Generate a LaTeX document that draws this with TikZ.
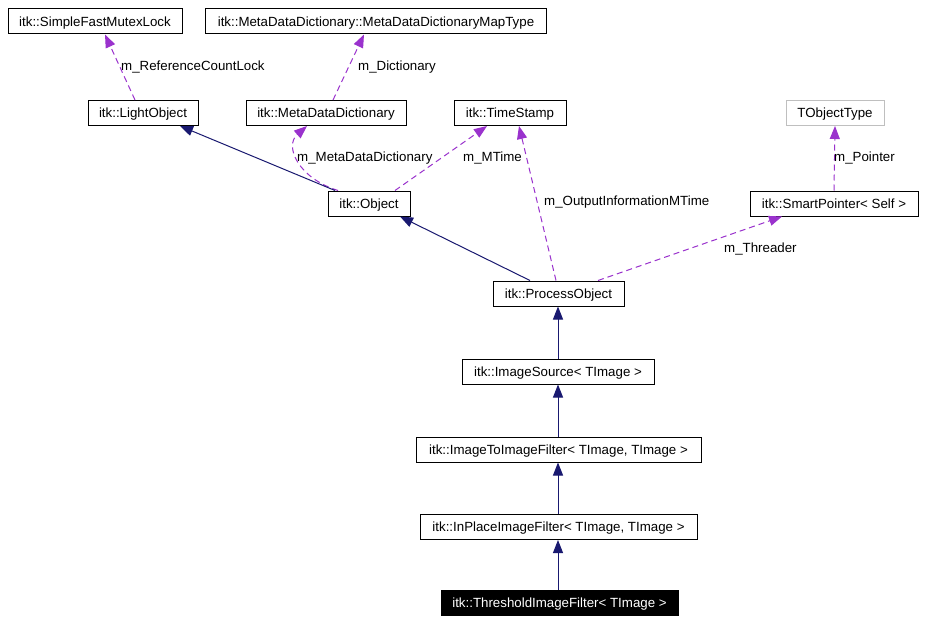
\documentclass[tikz,border=0pt]{standalone}
\usepackage{fontspec}
\setmainfont{Liberation Sans}
\usepackage{tikz}
\usetikzlibrary{arrows.meta}

\definecolor{inheritcol}{RGB}{25,25,112}
\definecolor{membercol}{RGB}{154,50,205}
\definecolor{greybox}{RGB}{191,191,191}

\tikzset{
  cls/.style={draw=black, line width=1pt, minimum height=25pt, inner sep=0pt, text height=9.6pt, text depth=0pt, anchor=center},
  inherit/.style={draw=inheritcol, line width=1pt, -{Triangle[length=13pt,width=10pt,fill=inheritcol]}},
  member/.style={draw=membercol, line width=1pt, dash pattern=on 6pt off 4pt, -{Triangle[length=13pt,width=10pt,fill=membercol]}},
  lbl/.style={anchor=west, inner sep=0pt, text height=9.6pt, text depth=0pt},
}

\begin{document}
\begin{tikzpicture}[x=1pt, y=-1pt]
\fontsize{13.3}{15}\selectfont
\useasboundingbox[fill=white] (0,0) rectangle (926,623);
% classes
\node[cls, minimum width=174] (mutex) at (95,21.5) {itk::SimpleFastMutexLock};
\node[cls, minimum width=341] (maptype) at (376,21.5) {itk::MetaDataDictionary::MetaDataDictionaryMapType};
\node[cls, minimum width=110] (light) at (143,113) {itk::LightObject};
\node[cls, minimum width=160] (mdd) at (326,113) {itk::MetaDataDictionary};
\node[cls, minimum width=112] (stamp) at (510,113) {itk::TimeStamp};
\node[cls, draw=greybox, minimum width=98] (tobj) at (835,113) {TObjectType};
\node[cls, minimum width=82] (object) at (369,203.5) {itk::Object};
\node[cls, minimum width=168] (smart) at (834,203.5) {itk::SmartPointer< Self >};
\node[cls, minimum width=131] (process) at (558.5,293.5) {itk::ProcessObject};
\node[cls, minimum width=192] (source) at (558,371.5) {itk::ImageSource< TImage >};
\node[cls, minimum width=285] (i2i) at (558.5,449.5) {itk::ImageToImageFilter< TImage, TImage >};
\node[cls, minimum width=277] (inplace) at (558.5,527) {itk::InPlaceImageFilter< TImage, TImage >};
\node[cls, fill=black, text=white, minimum width=237] (thresh) at (559.5,603) {itk::ThresholdImageFilter< TImage >};
% members
\draw[member] ([xshift=-8]light.north) -- ([xshift=10]mutex.south);
\node[lbl] (lblref) at (121,65.3) {m\_ReferenceCountLock};
\draw[member] ([xshift=7]mdd.north) -- ([xshift=-12]maptype.south);
\node[lbl] (lbldict) at (358,65.3) {m\_Dictionary};
\draw[member] ([xshift=-31]object.north) .. controls (298,178) and (284,146) .. ([xshift=-19]mdd.south);
\node[lbl] (lblmdd) at (297,156.3) {m\_MetaDataDictionary};
\draw[member] ([xshift=26]object.north) -- ([xshift=-23]stamp.south);
\node[lbl] (lblmtime) at (463,156.3) {m\_MTime};
\draw[member] ([xshift=-2.5]process.north) -- ([xshift=9]stamp.south);
\node[lbl] (lbloutput) at (544,201) {m\_OutputInformationMTime};
\draw[member] ([xshift=39.5]process.north) -- ([xshift=-52]smart.south);
\node[lbl] (lblthread) at (724,247.3) {m\_Threader};
\draw[member] (smart.north) -- (tobj.south);
\node[lbl] (lblpointer) at (834,156.7) {m\_Pointer};
% inheritance
\draw[inherit] ([xshift=-34]object.north) -- ([xshift=37]light.south);
\draw[inherit] ([xshift=-28.5]process.north) -- ([xshift=31]object.south);
\draw[inherit] (source.north) -- (source.north |- process.south);
\draw[inherit] (source.north |- i2i.north) -- (source.south);
\draw[inherit] (source.north |- inplace.north) -- (source.north |- i2i.south);
\draw[inherit] (source.north |- thresh.north) -- (source.north |- inplace.south);
\end{tikzpicture}
\end{document}
